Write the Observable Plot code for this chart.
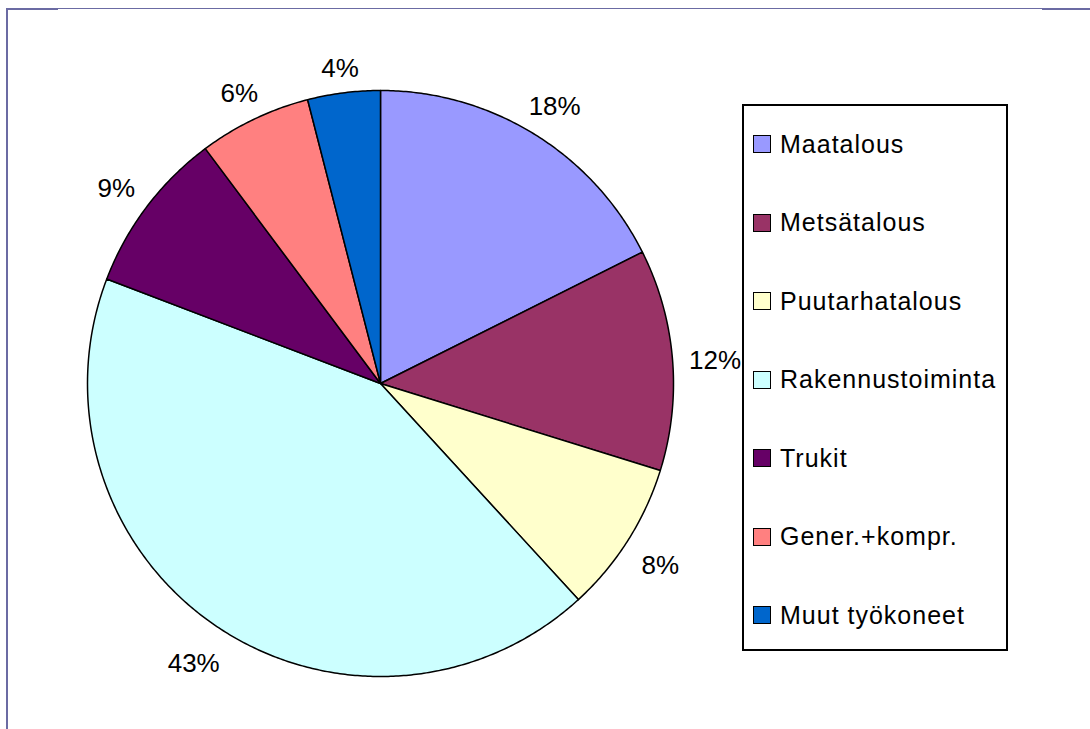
<!DOCTYPE html>
<html>
<head>
<meta charset="utf-8">
<script src="https://cdn.jsdelivr.net/npm/d3@7"></script>
<script src="https://cdn.jsdelivr.net/npm/@observablehq/plot@0.6"></script>
<style>
  html, body { margin: 0; padding: 0; background: #fff; }
  #wrap { position: relative; width: 1090px; height: 729px; overflow: hidden; font-family: "Liberation Sans", Arial, sans-serif; }
  #chart { position: absolute; left: 0; top: 0; }
  .frame { position: absolute; background: #6b6ba3; }
  #legend { position: absolute; left: 742px; top: 104px; width: 262px; height: 543px; border: 2px solid #000; background: #fff; }
  .item { position: absolute; left: 9px; height: 30px; display: flex; align-items: center; font-size: 25px; letter-spacing: 1px; color: #000; white-space: nowrap; }
  .sw { width: 16px; height: 16px; border: 1.5px solid #000; margin-right: 9px; flex: none; }
</style>
</head>
<body>
<div id="wrap">
  <div class="frame" style="left:6px;top:8px;width:1084px;height:1px;"></div>
  <div class="frame" style="left:6px;top:8px;width:52px;height:2px;"></div>
  <div class="frame" style="left:1042px;top:8px;width:48px;height:2px;"></div>
  <div class="frame" style="left:6px;top:8px;width:2px;height:721px;"></div>
  <div id="chart"></div>
  <div id="legend"></div>
</div>
<script>
const categories = ["Maatalous", "Metsätalous", "Puutarhatalous", "Rakennustoiminta", "Trukit", "Gener.+kompr.", "Muut työkoneet"];
const shares = [17.6, 12.2, 8.4, 42.6, 9.0, 6.2, 4.0];
const colors = ["#9999ff", "#993366", "#ffffcc", "#ccffff", "#660066", "#ff8080", "#0066cc"];

const R = 293; // pie radius in px
const total = d3.sum(shares);
const slices = [];
const labels = [];
let cum = 0;
shares.forEach((v, i) => {
  const a0 = cum / total * 2 * Math.PI;
  cum += v;
  const a1 = cum / total * 2 * Math.PI;
  const cat = categories[i];
  slices.push({cat, x: 0, y: 0});
  const n = Math.max(2, Math.ceil((a1 - a0) / (Math.PI / 360)));
  for (let k = 0; k <= n; k++) {
    const a = a0 + (a1 - a0) * k / n;
    slices.push({cat, x: Math.sin(a), y: Math.cos(a)});
  }
  slices.push({cat, x: 0, y: 0});
  const am = (a0 + a1) / 2;
  const txt = Math.round(v) + "%";
  const hw = txt.length === 2 ? 19 : 25;
  const dist = (R + 17 + hw * Math.abs(Math.sin(am)) + 10 * Math.abs(Math.cos(am))) / R;
  labels.push({x: dist * Math.sin(am), y: dist * Math.cos(am), text: txt});
});

const chart = Plot.plot({
  width: 1090,
  height: 729,
  marginLeft: 87,
  marginRight: 417,
  marginTop: 90,
  marginBottom: 53,
  x: {domain: [-1, 1], axis: null},
  y: {domain: [-1, 1], axis: null},
  color: {domain: categories, range: colors},
  style: {background: "transparent", fontFamily: "'Liberation Sans', Arial, sans-serif"},
  marks: [
    Plot.line(slices, {x: "x", y: "y", z: "cat", fill: "cat", stroke: "#000", strokeWidth: 1.5, strokeLinejoin: "round"}),
    Plot.text(labels, {x: "x", y: "y", text: "text", fontSize: 26, dy: 5, fill: "#000"})
  ]
});
document.getElementById("chart").appendChild(chart);

const legend = document.getElementById("legend");
categories.forEach((c, i) => {
  const item = document.createElement("div");
  item.className = "item";
  item.style.top = (23 + i * 78.5) + "px";
  const sw = document.createElement("div");
  sw.className = "sw";
  sw.style.background = colors[i];
  const t = document.createElement("span");
  t.textContent = c;
  item.appendChild(sw);
  item.appendChild(t);
  legend.appendChild(item);
});
</script>
</body>
</html>
